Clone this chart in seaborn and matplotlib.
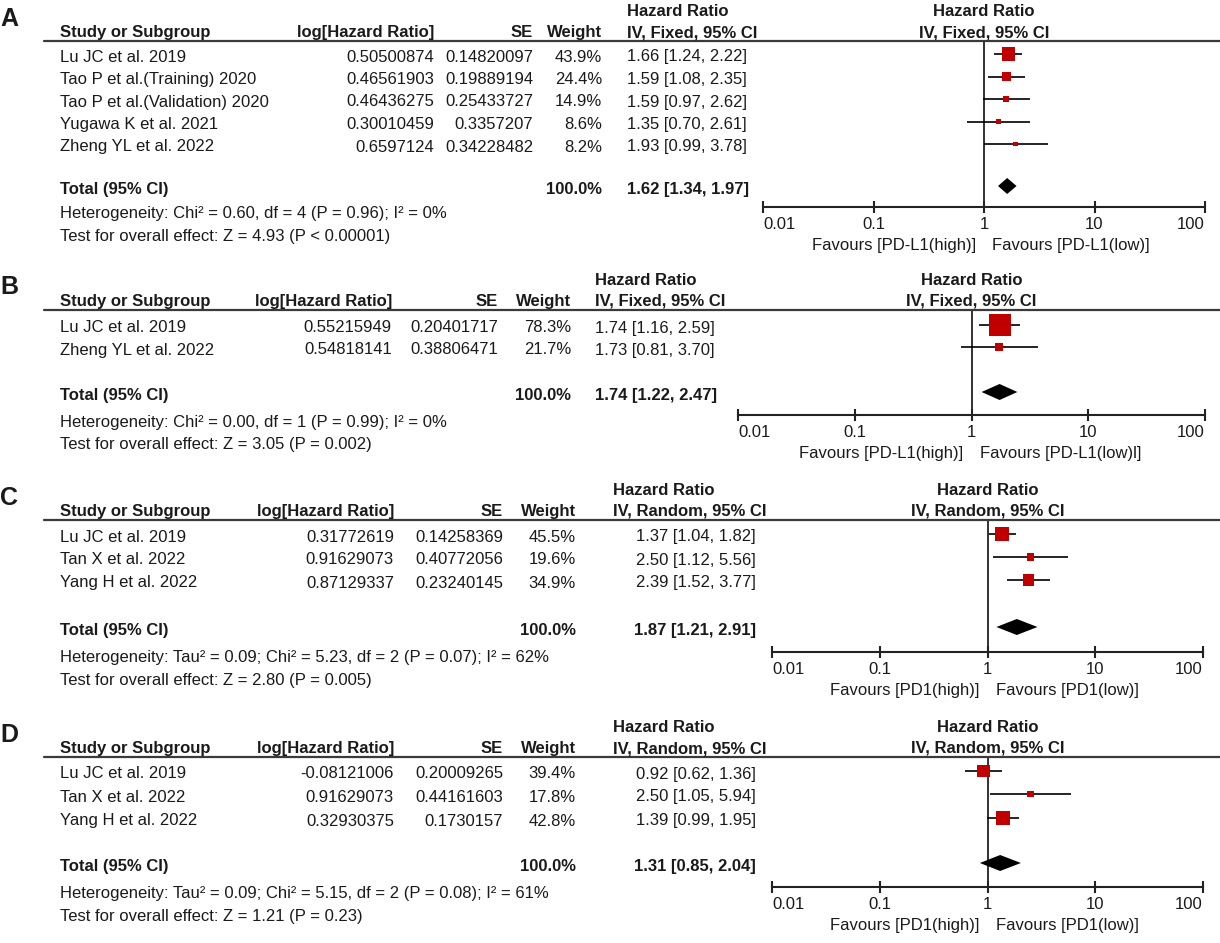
import matplotlib
matplotlib.use("Agg")
import matplotlib.pyplot as plt
import seaborn as sns
import pandas as pd
from matplotlib.lines import Line2D

# ---------------- data ----------------
A_studies = ["Lu JC et al. 2019", "Tao P et al.(Training) 2020", "Tao P et al.(Validation) 2020",
             "Yugawa K et al. 2021", "Zheng YL et al. 2022"]
A_loghr = ["0.50500874", "0.46561903", "0.46436275", "0.30010459", "0.6597124"]
A_se = ["0.14820097", "0.19889194", "0.25433727", "0.3357207", "0.34228482"]
A_weight = [43.9, 24.4, 14.9, 8.6, 8.2]
A_hr = [1.66, 1.59, 1.59, 1.35, 1.93]
A_lo = [1.24, 1.08, 0.97, 0.70, 0.99]
A_hi = [2.22, 2.35, 2.62, 2.61, 3.78]
A_total = [1.62, 1.34, 1.97]
A_het = "Heterogeneity: Chi² = 0.60, df = 4 (P = 0.96); I² = 0%"
A_test = "Test for overall effect: Z = 4.93 (P < 0.00001)"
A_method = "IV, Fixed, 95% CI"
A_favours = ["Favours [PD-L1(high)]", "Favours [PD-L1(low)]"]

B_studies = ["Lu JC et al. 2019", "Zheng YL et al. 2022"]
B_loghr = ["0.55215949", "0.54818141"]
B_se = ["0.20401717", "0.38806471"]
B_weight = [78.3, 21.7]
B_hr = [1.74, 1.73]
B_lo = [1.16, 0.81]
B_hi = [2.59, 3.70]
B_total = [1.74, 1.22, 2.47]
B_het = "Heterogeneity: Chi² = 0.00, df = 1 (P = 0.99); I² = 0%"
B_test = "Test for overall effect: Z = 3.05 (P = 0.002)"
B_method = "IV, Fixed, 95% CI"
B_favours = ["Favours [PD-L1(high)]", "Favours [PD-L1(low)l]"]

C_studies = ["Lu JC et al. 2019", "Tan X et al. 2022", "Yang H et al. 2022"]
C_loghr = ["0.31772619", "0.91629073", "0.87129337"]
C_se = ["0.14258369", "0.40772056", "0.23240145"]
C_weight = [45.5, 19.6, 34.9]
C_hr = [1.37, 2.50, 2.39]
C_lo = [1.04, 1.12, 1.52]
C_hi = [1.82, 5.56, 3.77]
C_total = [1.87, 1.21, 2.91]
C_het = "Heterogeneity: Tau² = 0.09; Chi² = 5.23, df = 2 (P = 0.07); I² = 62%"
C_test = "Test for overall effect: Z = 2.80 (P = 0.005)"
C_method = "IV, Random, 95% CI"
C_favours = ["Favours [PD1(high)]", "Favours [PD1(low)]"]

D_studies = ["Lu JC et al. 2019", "Tan X et al. 2022", "Yang H et al. 2022"]
D_loghr = ["-0.08121006", "0.91629073", "0.32930375"]
D_se = ["0.20009265", "0.44161603", "0.1730157"]
D_weight = [39.4, 17.8, 42.8]
D_hr = [0.92, 2.50, 1.39]
D_lo = [0.62, 1.05, 0.99]
D_hi = [1.36, 5.94, 1.95]
D_total = [1.31, 0.85, 2.04]
D_het = "Heterogeneity: Tau² = 0.09; Chi² = 5.15, df = 2 (P = 0.08); I² = 61%"
D_test = "Test for overall effect: Z = 1.21 (P = 0.23)"
D_method = "IV, Random, 95% CI"
D_favours = ["Favours [PD1(high)]", "Favours [PD1(low)]"]

tick_values = [0.01, 0.1, 1, 10, 100]
tick_labels = ["0.01", "0.1", "1", "10", "100"]

panels = [
    dict(letter="A", studies=A_studies, loghr=A_loghr, se=A_se, weight=A_weight, hr=A_hr, lo=A_lo, hi=A_hi,
         total=A_total, het=A_het, test=A_test, method=A_method, favours=A_favours),
    dict(letter="B", studies=B_studies, loghr=B_loghr, se=B_se, weight=B_weight, hr=B_hr, lo=B_lo, hi=B_hi,
         total=B_total, het=B_het, test=B_test, method=B_method, favours=B_favours),
    dict(letter="C", studies=C_studies, loghr=C_loghr, se=C_se, weight=C_weight, hr=C_hr, lo=C_lo, hi=C_hi,
         total=C_total, het=C_het, test=C_test, method=C_method, favours=C_favours),
    dict(letter="D", studies=D_studies, loghr=D_loghr, se=D_se, weight=D_weight, hr=D_hr, lo=D_lo, hi=D_hi,
         total=D_total, het=D_het, test=D_test, method=D_method, favours=D_favours),
]

# ---------------- layout (pixels, top-left origin) ----------------
layouts = [
    dict(line=41, rows=[54, 76.5, 99, 121.5, 144], total=186, axis=207, het=212, test=235,
         log_r=434, se_r=533, w_r=602, hdr_l=627, ci_l=627, ci_ha="left", ax0=763, ax1=1205),
    dict(line=310, rows=[325, 347], total=392, axis=415, het=421, test=443,
         log_r=392, se_r=498, w_r=571, hdr_l=595, ci_l=595, ci_ha="left", ax0=738, ax1=1205),
    dict(line=520, rows=[534, 557, 580], total=627, axis=652, het=656, test=679,
         log_r=394, se_r=503, w_r=576, hdr_l=613, ci_l=756, ci_ha="right", ax0=772, ax1=1203),
    dict(line=757, rows=[771, 794, 818], total=863, axis=887, het=892, test=915,
         log_r=394, se_r=503, w_r=576, hdr_l=613, ci_l=756, ci_ha="right", ax0=772, ax1=1203),
]

W, H = 1220, 943
FS = 12
TXT = "#1a1a1a"
RED = "#C00000"

sns.set_style("white")
plt.rcParams["font.family"] = ["Liberation Sans", "DejaVu Sans"]

fig = plt.figure(figsize=(W / 100, H / 100), dpi=100)


def ftext(x, y, s, ha="left", bold=False, size=FS):
    fig.text(x / W, 1 - y / H, s, ha=ha, va="center_baseline", fontsize=size,
             fontweight="bold" if bold else "normal", color=TXT)


for p, L in zip(panels, layouts):
    hdr_y = L["line"] - 10
    # panel letter
    ftext(0, L["line"] - 25, p["letter"], bold=True, size=18)
    # table header
    ftext(L["hdr_l"], L["line"] - 31, "Hazard Ratio", bold=True)
    ftext(60, hdr_y, "Study or Subgroup", bold=True)
    ftext(L["log_r"], hdr_y, "log[Hazard Ratio]", ha="right", bold=True)
    ftext(L["se_r"], hdr_y, "SE", ha="right", bold=True)
    ftext(L["w_r"], hdr_y, "Weight", ha="right", bold=True)
    ftext(L["hdr_l"], hdr_y, p["method"], bold=True)
    fig.add_artist(Line2D([44 / W, 1.0], [1 - L["line"] / H] * 2, color="#3a3a3a", lw=1.6))

    # study rows
    for i, y in enumerate(L["rows"]):
        ty = y + 1.5
        ftext(60, ty, p["studies"][i])
        ftext(L["log_r"], ty, p["loghr"][i], ha="right")
        ftext(L["se_r"], ty, p["se"][i], ha="right")
        ftext(L["w_r"], ty, f"{p['weight'][i]:.1f}%", ha="right")
        ftext(L["ci_l"], ty, f"{p['hr'][i]:.2f} [{p['lo'][i]:.2f}, {p['hi'][i]:.2f}]", ha=L["ci_ha"])
    # total row
    ty = L["total"] + 2
    ftext(60, ty, "Total (95% CI)", bold=True)
    ftext(L["w_r"], ty, "100.0%", ha="right", bold=True)
    t = p["total"]
    ftext(L["ci_l"], ty, f"{t[0]:.2f} [{t[1]:.2f}, {t[2]:.2f}]", ha=L["ci_ha"], bold=True)
    ftext(60, L["het"], p["het"])
    ftext(60, L["test"], p["test"])

    # forest axes
    x0, x1 = L["ax0"], L["ax1"]
    ax = fig.add_axes([x0 / W, 1 - L["axis"] / H, (x1 - x0) / W, (L["axis"] - L["line"]) / H])
    ax.patch.set_alpha(0)
    df = pd.DataFrame({"hr": p["hr"], "row": L["rows"], "weight": p["weight"]})
    sizes = {w: ((2.5 + 0.25 * w) * 72 / 100) ** 2 for w in p["weight"]}
    ax.hlines(L["rows"], p["lo"], p["hi"], color="black", lw=1.2, zorder=2)
    sns.scatterplot(data=df, x="hr", y="row", size="weight", sizes=sizes, marker="s",
                    color=RED, edgecolor="none", linewidth=0, legend=False, ax=ax, zorder=3)
    ax.fill([t[1], t[0], t[2], t[0]], [L["total"], L["total"] - 8, L["total"], L["total"] + 8],
            color="black", lw=0, zorder=3)
    ax.axvline(1, color="#222222", lw=1.3, zorder=1)
    ax.set_xscale("log")
    ax.set_xlim(0.01, 100)
    ax.set_ylim(L["axis"], L["line"])
    ax.set_xlabel("")
    ax.set_ylabel("")
    ax.set_yticks([])
    for s in ["top", "left", "right"]:
        ax.spines[s].set_visible(False)
    ax.spines["bottom"].set_color("#222222")
    ax.spines["bottom"].set_linewidth(1.5)
    ax.set_xticks(tick_values)
    ax.set_xticklabels(tick_labels)
    ax.minorticks_off()
    ax.tick_params(axis="x", direction="inout", length=9, width=1.5, color="#222222",
                   labelsize=FS, labelcolor=TXT, pad=3, bottom=True)
    labs = ax.get_xticklabels()
    labs[0].set_ha("left")
    labs[-1].set_ha("right")
    # forest header
    ax.text(1, L["line"] - 31, "Hazard Ratio", ha="center", va="center_baseline",
            fontsize=FS, fontweight="bold", color=TXT, clip_on=False)
    ax.text(1, hdr_y, p["method"], ha="center", va="center_baseline",
            fontsize=FS, fontweight="bold", color=TXT, clip_on=False)
    # favours labels
    fy = L["axis"] + 37
    ax.annotate(p["favours"][0], xy=(1, fy), xytext=(-6, 0), textcoords="offset points",
                ha="right", va="center_baseline", fontsize=FS, color=TXT, annotation_clip=False)
    ax.annotate(p["favours"][1], xy=(1, fy), xytext=(6, 0), textcoords="offset points",
                ha="left", va="center_baseline", fontsize=FS, color=TXT, annotation_clip=False)

fig.savefig("out.png", dpi=100, facecolor="white")
